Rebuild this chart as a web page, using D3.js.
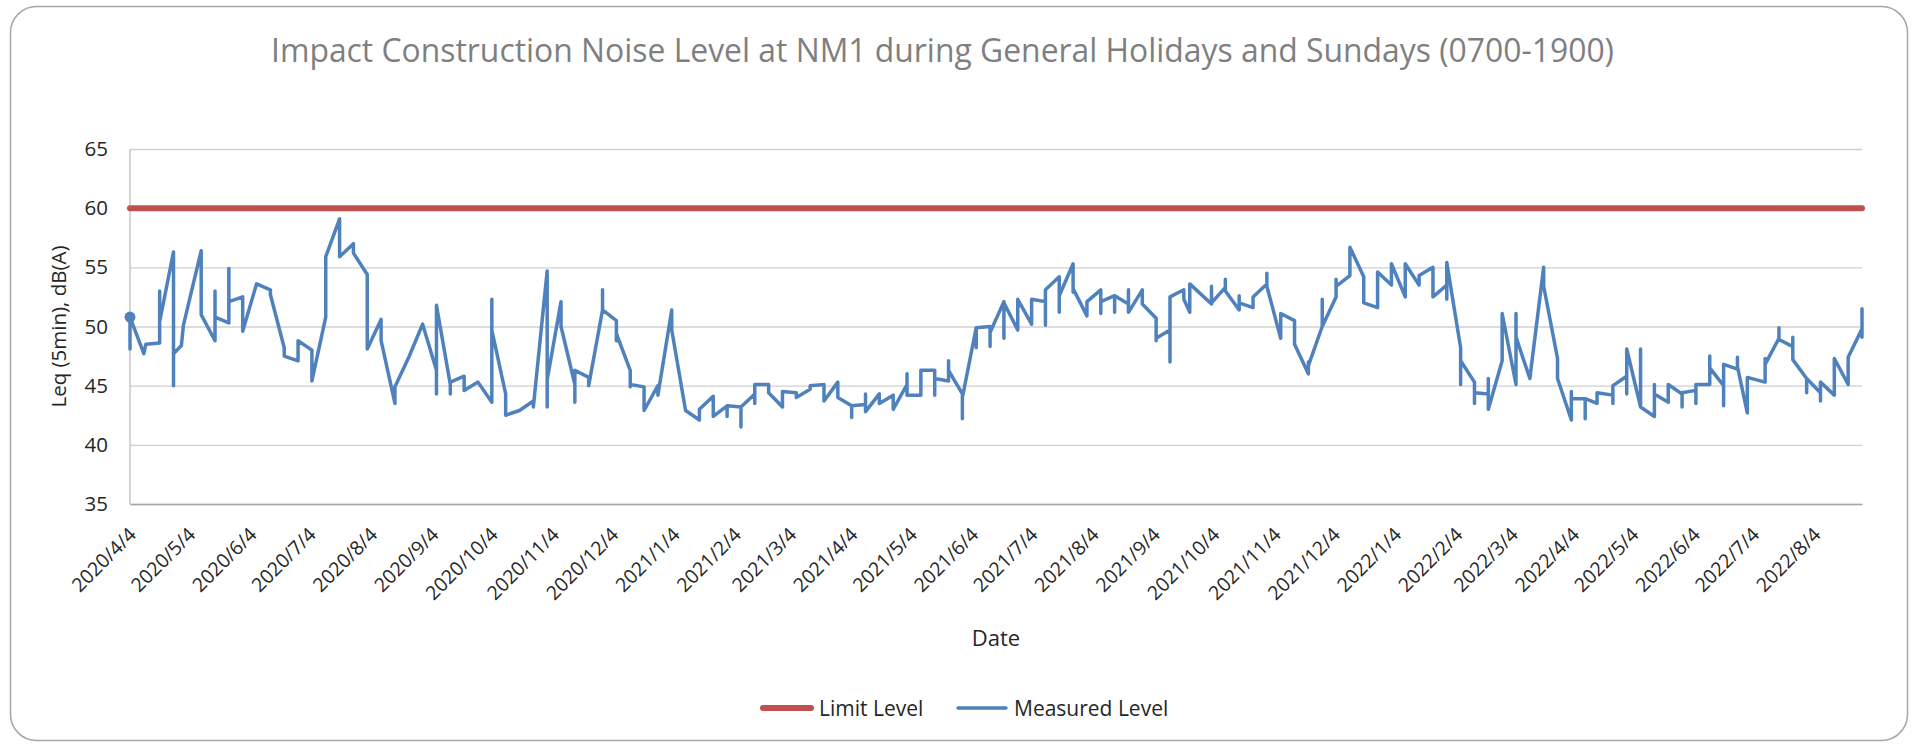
<!DOCTYPE html>
<html>
<head>
<meta charset="utf-8">
<script src="https://cdnjs.cloudflare.com/ajax/libs/d3/7.8.5/d3.min.js"></script>
<style>
  body { margin: 0; background: #fff; }
  text { font-family: "Open Sans", sans-serif; }
</style>
</head>
<body>
<div id="chartArea"></div>
<script>
// 圖表文字
var chartTitle = "Impact Construction Noise Level at NM1 during General Holidays and Sundays (0700-1900)";
var yTitle = "Leq (5min), dB(A)";
var xTitle = "Date";
var seriesNames = ["Limit Level", "Measured Level"];

// 上限值 / 軸
var limitLevel = 60;
var yTickValues = [35, 40, 45, 50, 55, 60, 65];
var xTickLabels = [
    "2020/4/4", "2020/5/4", "2020/6/4", "2020/7/4", "2020/8/4", "2020/9/4", "2020/10/4",
    "2020/11/4", "2020/12/4", "2021/1/4", "2021/2/4", "2021/3/4", "2021/4/4", "2021/5/4",
    "2021/6/4", "2021/7/4", "2021/8/4", "2021/9/4", "2021/10/4", "2021/11/4", "2021/12/4",
    "2022/1/4", "2022/2/4", "2022/3/4", "2022/4/4", "2022/5/4", "2022/6/4", "2022/7/4", "2022/8/4"
];
var xRange = ["2020/4/4", "2022/8/28"];

// 量測日期, 每日的量測值 (依畫線順序)
var measureDates = [
    "2020/4/4", "2020/4/11", "2020/4/12", "2020/4/19", "2020/4/26", "2020/4/30", "2020/5/1",
    "2020/5/10", "2020/5/17", "2020/5/24", "2020/5/31", "2020/6/7", "2020/6/14", "2020/6/21",
    "2020/6/28", "2020/7/5", "2020/7/12", "2020/7/19", "2020/7/26", "2020/8/2", "2020/8/9",
    "2020/8/16", "2020/8/23", "2020/8/30", "2020/9/6", "2020/9/13", "2020/9/20", "2020/9/27",
    "2020/10/4", "2020/10/11", "2020/10/18", "2020/10/25", "2020/11/1", "2020/11/8", "2020/11/15",
    "2020/11/22", "2020/11/29", "2020/12/6", "2020/12/13", "2020/12/20", "2020/12/27", "2021/1/3",
    "2021/1/10", "2021/1/17", "2021/1/24", "2021/1/31", "2021/2/7", "2021/2/14", "2021/2/21",
    "2021/2/28", "2021/3/7", "2021/3/14", "2021/3/21", "2021/3/28", "2021/4/4", "2021/4/11",
    "2021/4/18", "2021/4/25", "2021/5/2", "2021/5/9", "2021/5/16", "2021/5/23", "2021/5/30",
    "2021/6/6", "2021/6/13", "2021/6/20", "2021/6/27", "2021/7/4", "2021/7/11", "2021/7/18",
    "2021/7/25", "2021/8/1", "2021/8/8", "2021/8/15", "2021/8/22", "2021/8/29", "2021/9/5",
    "2021/9/12", "2021/9/19", "2021/9/22", "2021/10/3", "2021/10/10", "2021/10/17", "2021/10/24",
    "2021/10/31", "2021/11/7", "2021/11/14", "2021/11/21", "2021/11/28", "2021/12/5", "2021/12/12",
    "2021/12/19", "2021/12/26", "2022/1/2", "2022/1/9", "2022/1/16", "2022/1/23", "2022/1/30",
    "2022/2/6", "2022/2/13", "2022/2/20", "2022/2/27", "2022/3/6", "2022/3/13", "2022/3/20",
    "2022/3/27", "2022/4/3", "2022/4/10", "2022/4/16", "2022/4/24", "2022/5/1", "2022/5/8",
    "2022/5/15", "2022/5/22", "2022/5/29", "2022/6/5", "2022/6/12", "2022/6/19", "2022/6/26",
    "2022/7/1", "2022/7/10", "2022/7/17", "2022/7/24", "2022/7/31", "2022/8/7", "2022/8/14",
    "2022/8/21", "2022/8/28"
];
var measureLevels = [
    [48.1, 50.8], [47.7], [48.5], [48.6, 53.0, 50.4], [56.3, 45.0, 47.7], [48.4], [50.1],
    [56.4, 51.0], [48.8, 53.0, 50.8], [50.3, 54.9, 52.1], [52.5, 49.6], [53.6], [53.1, 52.7], [48.2, 47.5],
    [47.1, 48.8], [48.0, 45.4], [50.8, 55.9], [59.1, 55.9], [57.0, 56.2], [54.4, 48.1], [50.6, 48.8],
    [43.5, 44.9], [47.4], [50.2], [46.3, 44.3, 51.8], [45.1, 44.3, 45.3], [45.8, 44.6], [45.3],
    [43.6, 52.3, 49.7], [44.3, 42.5], [42.9], [43.7, 43.2], [54.7, 43.2, 45.5], [52.1, 50.0], [45.1, 43.6, 46.3],
    [45.7, 45.0], [51.4, 53.1, 51.4], [50.5, 48.8, 49.4], [46.3, 44.9, 45.1], [44.9, 42.9], [45.0, 44.2], [51.4, 49.7],
    [42.9], [42.1, 43.0], [44.1, 42.4], [43.3, 42.4, 43.3], [43.2, 41.5, 43.2], [44.3, 43.5, 45.1], [45.1, 44.4],
    [43.2, 44.5], [44.4, 44.0], [44.7, 45.0], [45.1, 43.7], [45.3, 44.0], [43.3, 42.3, 43.3], [43.4, 44.3, 42.8],
    [44.3, 43.5], [44.2, 43.0], [45.1, 46.0, 44.2], [44.2, 46.3], [46.3, 44.2, 45.6], [45.4, 47.1, 46.3], [44.3, 42.2, 44.0],
    [49.9, 48.2, 49.9], [50.0, 48.3, 49.5], [52.1, 49.0, 52.0], [49.7, 52.3], [50.2, 52.3], [52.1, 50.1, 53.1], [54.2, 51.2, 52.6],
    [55.3, 52.9, 53.2], [50.9, 52.1], [53.1, 51.1, 52.1], [52.6, 51.2, 52.6], [51.9, 53.1, 51.2], [53.1, 51.9], [50.7, 48.8, 49.0],
    [49.7, 47.0, 52.5], [53.1, 52.3], [51.2, 53.6], [51.9, 53.4, 52.0], [53.3, 54.0, 53.0], [51.4, 52.6, 52.0], [51.6, 52.5],
    [53.6, 54.5, 53.4], [49.0, 51.1], [50.5, 48.5], [46.0, 47.0, 46.7], [50.0, 52.3, 50.0], [52.5, 54.0, 53.4], [54.3, 56.7],
    [54.2, 52.0], [51.6, 54.6], [53.5, 55.3], [52.5, 55.3], [53.5, 54.3], [55.0, 52.5], [53.5, 52.3, 55.4],
    [48.2, 45.1, 47.1], [45.3, 43.5, 44.4], [44.3, 45.6, 43.0], [47.1, 51.1], [45.1, 51.1, 49.1], [45.6], [55.0, 53.4],
    [47.3, 45.6], [42.1, 44.5, 43.9], [43.9, 42.2, 43.9], [43.5, 44.4], [44.2, 43.5, 45.0], [45.8, 44.3, 48.1], [43.2, 48.1, 43.2],
    [42.4, 45.1, 44.3], [43.6, 45.1], [44.3, 43.2, 44.4], [44.6, 43.5, 45.1], [45.1, 47.5, 46.5], [45.0, 43.3, 46.8], [46.4, 47.4, 46.6],
    [42.7, 45.7], [45.3, 47.3, 46.8], [49.0, 49.9, 48.9], [48.3, 49.1, 47.2], [45.6, 44.4, 45.6], [44.4, 43.7, 45.3], [44.2, 47.3],
    [45.1, 47.4], [49.8, 51.5, 49.1]
];

// 顏色
var limitColor = "#C0504D";
var measureColor = "#4F81BD";

// 設定圖區域
var W = 1917, H = 746;
var margin = { top: 149, right: 55, bottom: 242, left: 130 };
var width = W - margin.left - margin.right;
var height = H - margin.top - margin.bottom;

var parseDate = d3.utcParse("%Y/%m/%d");

var root = d3.select("#chartArea").append("svg")
    .attr("width", W)
    .attr("height", H);

// 外框
root.append("rect")
    .attr("x", 10.5).attr("y", 6.5)
    .attr("width", 1897).attr("height", 734)
    .attr("rx", 26).attr("ry", 26)
    .attr("fill", "#fff")
    .attr("stroke", "#a6a6a6")
    .attr("stroke-width", 1.5);

// 標題
var title = root.append("text")
    .attr("x", 942.5)
    .attr("y", 62)
    .attr("text-anchor", "middle")
    .attr("fill", "#7f7f7f")
    .style("font-size", "32px")
    .text(chartTitle);
title.attr("textLength", 1343).attr("lengthAdjust", "spacingAndGlyphs");

var svg = root.append("g")
    .attr("transform", "translate(" + margin.left + "," + margin.top + ")");

var x = d3.scaleUtc()
    .domain(xRange.map(parseDate))
    .range([0, width]);
var y = d3.scaleLinear()
    .domain([35, 65])
    .range([height, 0]);

// y 軸 + 格線
var yAxis = svg.append("g")
    .call(d3.axisLeft(y).tickValues(yTickValues).tickSize(-width).tickPadding(22));
yAxis.select(".domain").remove();
yAxis.selectAll(".tick line")
    .attr("stroke", "#d0d0d0")
    .attr("stroke-width", 1.3);
yAxis.selectAll(".tick text")
    .attr("fill", "#262626")
    .style("font-size", "20.5px")
    .style("font-family", "'Open Sans', sans-serif");

// 左邊線
svg.append("line")
    .attr("x1", 0).attr("x2", 0)
    .attr("y1", 0).attr("y2", height)
    .attr("stroke", "#bfbfbf")
    .attr("stroke-width", 1.3);

// x 軸
var xAxis = svg.append("g")
    .attr("transform", "translate(0," + height + ")")
    .call(d3.axisBottom(x)
        .tickValues(xTickLabels.map(parseDate))
        .tickFormat(d3.utcFormat("%Y/%-m/%-d"))
        .tickSize(0));
xAxis.select(".domain")
    .attr("stroke", "#a6a6a6")
    .attr("stroke-width", 1.6);
xAxis.selectAll(".tick text")
    .attr("x", 0).attr("y", 0).attr("dy", "0.35em")
    .attr("text-anchor", "end")
    .attr("transform", "translate(2,27) rotate(-45)")
    .attr("fill", "#262626")
    .style("font-size", "19.5px")
    .style("font-family", "'Open Sans', sans-serif");

// 軸標題
root.append("text")
    .attr("transform", "translate(59," + (margin.top + height / 2) + ") rotate(-90)")
    .attr("text-anchor", "middle")
    .attr("dy", "0.35em")
    .attr("fill", "#262626")
    .style("font-size", "20.5px")
    .text(yTitle);

root.append("text")
    .attr("x", margin.left + width / 2)
    .attr("y", 646)
    .attr("text-anchor", "middle")
    .attr("fill", "#262626")
    .style("font-size", "22px")
    .text(xTitle);

// 上限線
svg.append("path")
    .attr("d", d3.line()([[x.range()[0], y(limitLevel)], [x.range()[1], y(limitLevel)]]))
    .attr("stroke", limitColor)
    .attr("stroke-width", 6)
    .attr("stroke-linecap", "round")
    .attr("fill", "none");

// 量測線
var points = [];
measureDates.forEach(function(d, i) {
    measureLevels[i].forEach(function(v) {
        points.push({ date: parseDate(d), level: v });
    });
});

var measureLine = d3.line()
    .x(function(d) { return x(d.date); })
    .y(function(d) { return y(d.level); });

svg.append("path")
    .datum(points)
    .attr("d", measureLine)
    .attr("stroke", measureColor)
    .attr("stroke-width", 3.5)
    .attr("stroke-linejoin", "round")
    .attr("stroke-linecap", "round")
    .attr("fill", "none");

// 第一天的標記點
svg.append("circle")
    .attr("cx", x(points[1].date))
    .attr("cy", y(points[1].level))
    .attr("r", 5.5)
    .attr("fill", measureColor);

// 圖例
function drawLegend(label, color, sw, x0) {
    root.append("path")
        .attr("d", d3.line()([[x0 + 3, 708], [x0 + 51, 708]]))
        .attr("stroke", color)
        .attr("stroke-width", sw)
        .attr("stroke-linecap", "round")
        .attr("fill", "none");
    root.append("text")
        .attr("x", x0 + 59)
        .attr("y", 716)
        .attr("fill", "#262626")
        .style("font-size", "21px")
        .text(label);
}
drawLegend(seriesNames[0], limitColor, 6, 760);
drawLegend(seriesNames[1], measureColor, 3.5, 955);
</script>
</body>
</html>
